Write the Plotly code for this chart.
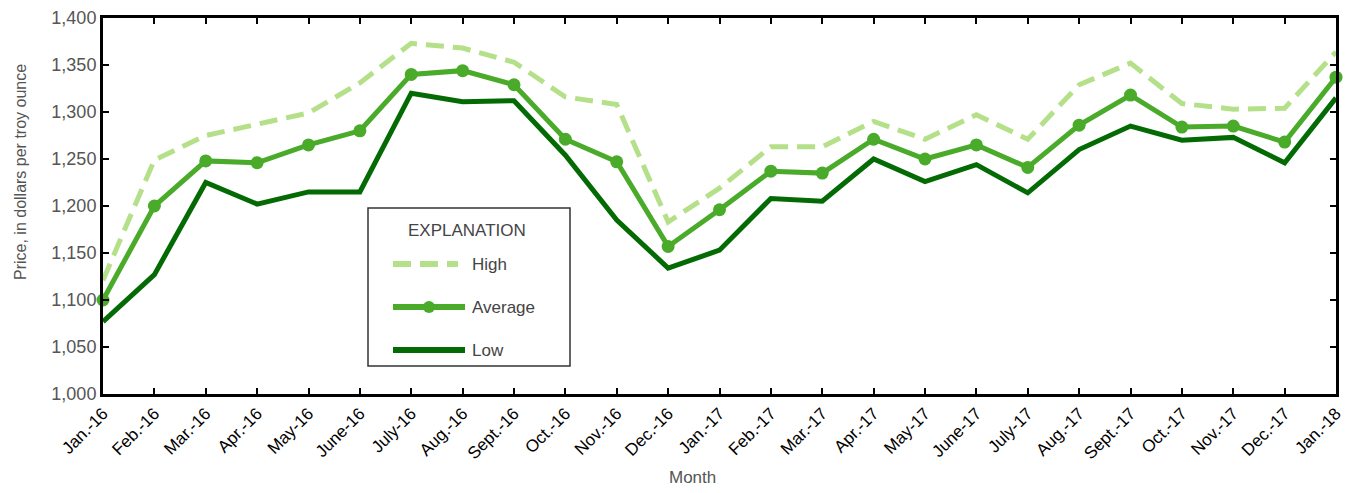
import plotly.graph_objects as go

months = ["Jan.-16", "Feb.-16", "Mar.-16", "Apr.-16", "May-16", "June-16", "July-16", "Aug.-16",
          "Sept.-16", "Oct.-16", "Nov.-16", "Dec.-16", "Jan.-17", "Feb.-17", "Mar.-17", "Apr.-17",
          "May-17", "June-17", "July-17", "Aug.-17", "Sept.-17", "Oct.-17", "Nov.-17", "Dec.-17", "Jan.-18"]
high = [1121, 1249, 1275, 1287, 1299, 1331, 1373, 1368, 1353, 1316, 1308, 1183, 1219, 1263, 1263,
        1290, 1271, 1297, 1271, 1329, 1352, 1309, 1303, 1304, 1364]
average = [1100, 1200, 1248, 1246, 1265, 1280, 1340, 1344, 1329, 1271, 1247, 1157, 1196, 1237, 1235,
           1271, 1250, 1265, 1241, 1286, 1318, 1284, 1285, 1268, 1337]
low = [1077, 1127, 1225, 1202, 1215, 1215, 1320, 1311, 1312, 1254, 1185, 1134, 1153, 1208, 1205,
       1250, 1226, 1244, 1214, 1260, 1285, 1270, 1273, 1246, 1315]
y_ticks = [1000, 1050, 1100, 1150, 1200, 1250, 1300, 1350, 1400]
y_ticktext = ["1,000", "1,050", "1,100", "1,150", "1,200", "1,250", "1,300", "1,350", "1,400"]

series_names = ["High", "Average", "Low"]
c_high, c_avg, c_low = "#b5e08a", "#4aab2a", "#046b04"

W, H = 1350, 493
L, R, T, B = 103, 14, 18, 99
PW, PH = W - L - R, H - T - B

def px(x):
    return (x - L) / PW

def py(y):
    return (H - B - y) / PH

FONT = "Liberation Sans Narrow, Arial Narrow, Liberation Sans, Arial, sans-serif"
XFONT = "Liberation Sans, Arial, sans-serif"

fig = go.Figure()
fig.add_trace(go.Scatter(x=months, y=high, mode="lines", name="High", cliponaxis=False,
                         line=dict(color=c_high, width=5, dash="18px,9px"), showlegend=False))
fig.add_trace(go.Scatter(x=months, y=low, mode="lines", name="Low", cliponaxis=False,
                         line=dict(color=c_low, width=5), showlegend=False))
fig.add_trace(go.Scatter(x=months, y=average, mode="lines+markers", name="Average", cliponaxis=False,
                         line=dict(color=c_avg, width=5), marker=dict(color=c_avg, size=13),
                         showlegend=False))

# Custom legend box ("EXPLANATION")
shapes = [dict(type="rect", xref="paper", yref="paper", x0=px(368), x1=px(570), y0=py(366), y1=py(208),
               line=dict(color="#333333", width=1.5), fillcolor="white", layer="above")]
rows = [(264, c_high, "dash"), (307, c_avg, "solid"), (350, c_low, "solid")]
ends = [458, 465, 465]
for (yy, col, dash), x1 in zip(rows, ends):
    shapes.append(dict(type="line", xref="paper", yref="paper", x0=px(393), x1=px(x1), y0=py(yy), y1=py(yy),
                       line=dict(color=col, width=6, dash="18px,9px" if dash == "dash" else "solid"),
                       layer="above"))
shapes.append(dict(type="circle", xref="paper", yref="paper", x0=px(423), x1=px(435), y0=py(313), y1=py(301),
                   fillcolor=c_avg, line=dict(color=c_avg, width=0), layer="above"))

annotations = [dict(text="EXPLANATION", xref="paper", yref="paper", x=px(467), y=py(231), showarrow=False,
                    xanchor="center", yanchor="middle", font=dict(family=FONT, size=17, color="#444444"))]
for (yy, col, dash), name in zip(rows, series_names):
    annotations.append(dict(text=name, xref="paper", yref="paper", x=px(470), y=py(yy), showarrow=False,
                            xanchor="left", yanchor="middle", font=dict(family=FONT, size=17, color="#444444")))
# Axis titles
annotations.append(dict(text="Month", xref="paper", yref="paper", x=px(692), y=py(477), showarrow=False,
                        xanchor="center", yanchor="middle", font=dict(family=FONT, size=17, color="#555555")))
annotations.append(dict(text="Price, in dollars per troy ounce", xref="paper", yref="paper", x=px(21),
                        y=py(172), showarrow=False, textangle=-90, xanchor="center", yanchor="middle",
                        font=dict(family=FONT, size=16, color="#555555")))

fig.update_layout(
    width=W, height=H,
    margin=dict(l=L, r=R, t=T, b=B, autoexpand=False),
    plot_bgcolor="white", paper_bgcolor="white",
    font=dict(family=FONT, color="#555555"),
    shapes=shapes, annotations=annotations,
    xaxis=dict(type="category", range=[0, len(months) - 1], showline=True, linecolor="black", linewidth=3,
               mirror="ticks", ticks="inside", ticklen=6, tickwidth=2, tickcolor="black", automargin=False,
               tickangle=-45, tickfont=dict(family=XFONT, size=17, color="black"), showgrid=False,
               zeroline=False),
    yaxis=dict(range=[1000, 1400], tickvals=y_ticks, ticktext=y_ticktext, showline=True, linecolor="black",
               linewidth=3, mirror="ticks", ticks="inside", ticklen=6, tickwidth=2, tickcolor="black",
               automargin=False,
               tickfont=dict(family=FONT, size=18, color="#555555"), showgrid=False, zeroline=False),
)

fig.write_html("out.html", config={"displayModeBar": False},
               post_script="document.body.style.margin='0';")
